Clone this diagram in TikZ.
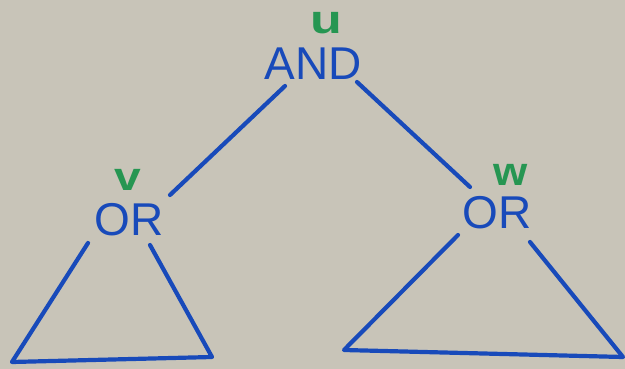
\documentclass[tikz,border=0pt]{standalone}
\usepackage{fontspec}
\setmainfont{Liberation Sans}
\usetikzlibrary{calc}
\definecolor{board}{RGB}{200,196,184}
\definecolor{marker}{RGB}{24,74,186}
\definecolor{greenmk}{RGB}{38,150,82}
\tikzset{
  gate/.style={inner sep=0pt, text=marker, font=\fontsize{46}{46}\selectfont},
  lbl/.style={inner sep=0pt, text=greenmk, font=\bfseries\fontsize{40}{40}\selectfont},
  ink/.style={draw=marker, line width=4.2pt, line cap=round, line join=round}
}
\begin{document}
\begin{tikzpicture}[x=1pt,y=-1pt]
\fill[board] (0,0) rectangle (625,369);
\useasboundingbox (0,0) rectangle (625,369);
% nodes
\node[gate] (and) at (313,64) {AND};
\node[gate] (orl) at (129,220) {OR};
\node[gate] (orr) at (497,213) {OR};
\node[lbl,xscale=1.3] (u) at (326,23) {u};
\node[lbl,xscale=1.2] (v) at (128,180) {v};
\node[lbl,xscale=1.1] (w) at (511,175) {w};
% connectors
\draw[ink] ($(and)+(-28,22)$) -- ($(orl)+(41,-25)$);
\draw[ink] ($(and)+(44,18)$) -- ($(orr)+(-27,-26)$);
% subtrees
\draw[ink] ($(orl)+(-41,23)$) -- (12,362) -- (212,357) -- ($(orl)+(21,25)$);
\draw[ink] ($(orr)+(-39,22)$) -- (344,350) -- (623,357) -- ($(orr)+(33,29)$);
\end{tikzpicture}
\end{document}
